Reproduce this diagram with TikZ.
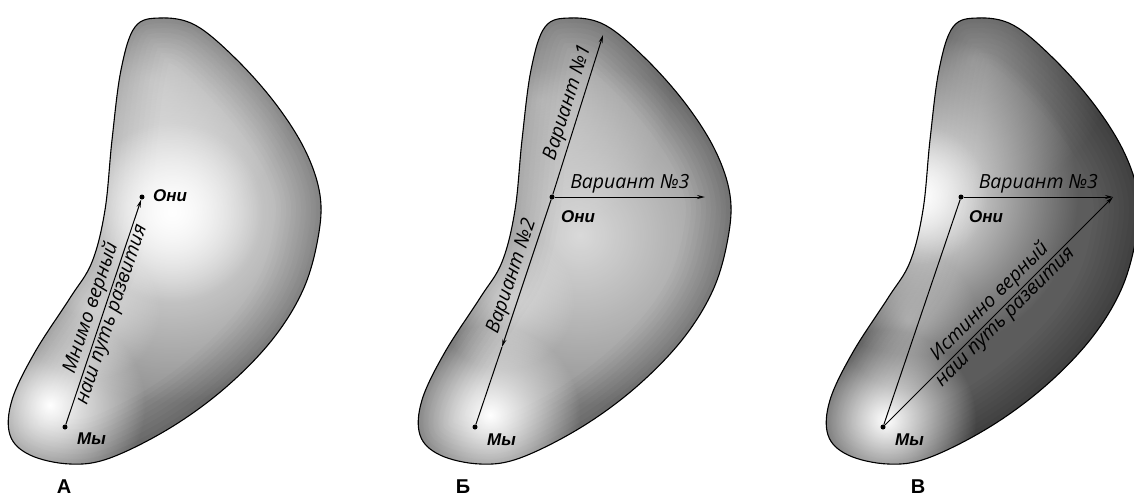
\documentclass[tikz,border=0pt]{standalone}
\usepackage{fontspec}
\setmainfont{Open Sans}
\newfontfamily\labfont{Open Sans}
\newfontfamily\boldit{Liberation Sans}
\newfontfamily\panelfont{Liberation Sans}
\usetikzlibrary{arrows.meta,fadings}
\tikzfading[name=glowfade, inner color=transparent!0, outer color=transparent!100]
\definecolor{baseA}{RGB}{145,145,145}
\definecolor{baseB}{RGB}{148,148,148}
\definecolor{baseC}{RGB}{92,92,92}
\def\blobshape{plot[smooth cycle, tension=0.6] coordinates {
 (135,27) (160,18) (195,25) (235,58) (275,103) (305,150) (320,195) (318,238)
 (303,290) (272,340) (225,388) (170,428) (110,458) (70,464) (30,455) (10,435)
 (12,400) (35,352) (70,298) (92,262) (105,210) (112,140) (121,70)}}
\tikzset{
  dot/.style={circle,fill=black,inner sep=0pt,minimum size=5pt},
  arr/.style={line width=1pt,-{Stealth[length=8pt,width=4pt]}},
  ln/.style={line width=1pt},
  var/.style={font=\labfont\itshape\fontsize{19.5}{21}\selectfont,inner sep=2pt},
  who/.style={font=\boldit\bfseries\itshape\fontsize{17}{19}\selectfont,anchor=west,inner sep=0pt},
  panel/.style={font=\panelfont\bfseries\fontsize{20}{22}\selectfont,inner sep=0pt},
  blobline/.style={line width=1.1pt},
  glow/.style={white,path fading=glowfade},
  rim/.style={black,opacity=0.03}
}
\newcommand\rimdark{%
  \foreach \w in {90,80,...,10} {\draw[rim,line width=\w pt] \blobshape;}}
\begin{document}
\begin{tikzpicture}[x=1pt,y=-1pt]
\useasboundingbox (0,0) rectangle (1134,499);
% ---------- shapes ----------
\begin{scope}
  \begin{scope}
    \clip \blobshape;
    \fill[baseA] (0,0) rectangle (340,480);
    \rimdark
    \fill[glow,opacity=0.4] (150,80) circle[radius=150pt];
    \fill[glow,opacity=0.85] (172,212) circle[radius=190pt];
    \fill[glow] (172,212) circle[radius=90pt];
    \fill[glow] (50,405) circle[radius=95pt];
    \fill[glow,opacity=0.5] (90,310) circle[radius=70pt];
  \end{scope}
  \draw[blobline] \blobshape;
\end{scope}
\begin{scope}[xshift=410pt]
  \begin{scope}
    \clip \blobshape;
    \fill[baseB] (0,0) rectangle (340,480);
    \rimdark
    \fill[glow,opacity=0.4] (130,100) circle[radius=130pt];
    \fill[glow,opacity=0.65] (170,235) circle[radius=170pt];
    \fill[glow] (80,415) circle[radius=90pt];
    \fill[glow,opacity=0.5] (95,300) circle[radius=70pt];
  \end{scope}
  \draw[blobline] \blobshape;
\end{scope}
\begin{scope}[xshift=818pt]
  \begin{scope}
    \clip \blobshape;
    \fill[baseC] (0,0) rectangle (340,480);
    \rimdark
    \fill[glow,opacity=0.35] (155,60) circle[radius=140pt];
    \fill[glow] (100,195) circle[radius=160pt];
    \fill[glow,opacity=0.7] (100,195) circle[radius=70pt];
    \fill[glow] (68,420) circle[radius=90pt];
    \fill[glow,opacity=0.4] (90,320) circle[radius=70pt];
  \end{scope}
  \draw[blobline] \blobshape;
\end{scope}
% ---------- panel A ----------
\node[dot] (oA) at (142,197) {};
\node[dot] (mA) at (65,427) {};
\node[who] (tOA) at (153,196) {Они};
\node[who] (tMA) at (77,439) {Мы};
\draw[arr] (mA) -- (oA);
\path (mA) -- (oA) node[var,midway,sloped,above=1pt] {Мнимо верный}
                   node[var,midway,sloped,below=1pt] {наш путь развития};
\node[panel] (lA) at (64,487) {А};
% ---------- panel B ----------
\node[dot] (oB) at (552,197) {};
\node[dot] (mB) at (475,427) {};
\coordinate (t1B) at (603,35);
\coordinate (t3B) at (705,197);
\coordinate (a2B) at (502,347);
\node[who] (tOB) at (561,217) {Они};
\node[who] (tMB) at (487,440) {Мы};
\draw[arr] (oB) -- (t1B) node[var,pos=0.55,sloped,above=1pt] {Вариант №1};
\draw[arr] (oB) -- (t3B) node[var,midway,above=1pt] {Вариант №3};
\draw[arr] (oB) -- (a2B);
\draw[ln] (a2B) -- (mB);
\path (mB) -- (oB) node[var,pos=0.64,sloped,above=1pt] {Вариант №2};
\node[panel] (lB) at (463,487) {Б};
% ---------- panel C ----------
\node[dot] (oC) at (961,197) {};
\node[dot] (mC) at (883,427) {};
\coordinate (t3C) at (1113,197);
\node[who] (tOC) at (969,217) {Они};
\node[who] (tMC) at (895,440) {Мы};
\draw[ln] (mC) -- (oC);
\draw[arr] (oC) -- (t3C) node[var,midway,above=1pt] {Вариант №3};
\draw[arr] (mC) -- (t3C);
\path (mC) -- (t3C) node[var,midway,sloped,above=1pt] {Истинно верный}
                    node[var,midway,sloped,below=1pt] {наш путь развития};
\node[panel] (lC) at (918,487) {В};
\end{tikzpicture}
\end{document}
